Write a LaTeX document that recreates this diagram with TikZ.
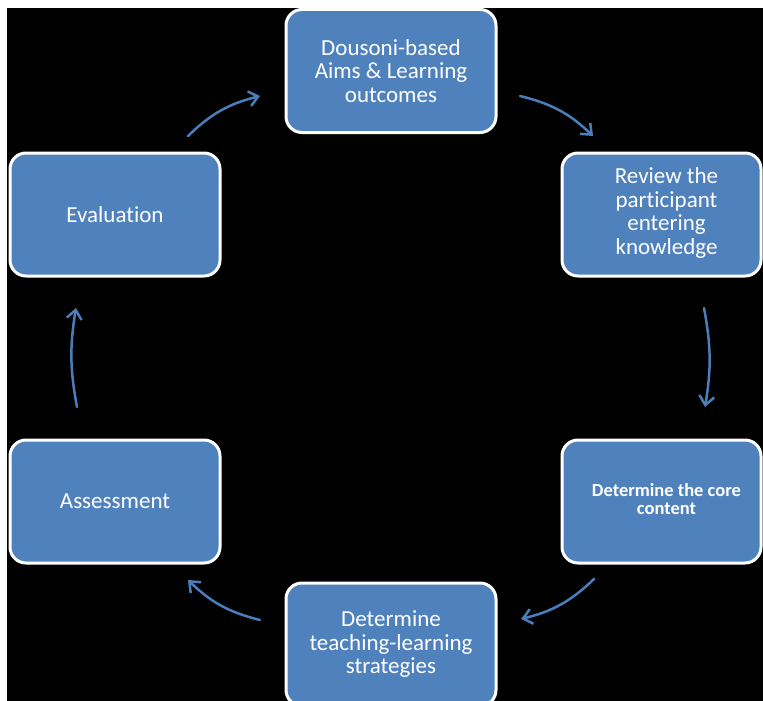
\documentclass[tikz,border=0pt]{standalone}
\usepackage{fontspec}
\setmainfont{Carlito}[Ligatures={NoCommon}]
\usetikzlibrary{arrows.meta}
\definecolor{boxblue}{HTML}{4F81BD}
\definecolor{arrblue}{HTML}{4A7EBB}
\newcommand{\rtext}[1]{\hspace*{10pt}\begin{tabular}{@{}c@{}}#1\end{tabular}}
\begin{document}
\begin{tikzpicture}[x=1pt,y=-1pt,
  stage/.style={draw=white, line width=3pt, fill=boxblue, rounded corners=16pt,
    minimum width=210pt, minimum height=123pt, inner sep=0pt,
    text=white, align=center, font=\fontsize{23}{23.5}\selectfont},
  stagenarrow/.style={stage, minimum width=199pt},
  cyc/.style={draw=arrblue, line width=2.5pt, line cap=round,
    -{Straight Barb[length=9pt,width=15pt,line width=2.5pt]}}]
\useasboundingbox (0,0) rectangle (763,701);
\clip (0,0) rectangle (763,701);
\fill[white] (0,0) rectangle (763,701);
\fill[black] (7,8) rectangle (763,701);

\node[stage] (aims) at (391,71) {Dousoni-based\\Aims \& Learning\\outcomes};
\node[stagenarrow] (review) at (661.5,214.5) {\rtext{Review the\\participant\\entering\\knowledge}};
\node[stagenarrow, font=\bfseries\fontsize{18.5}{18}\selectfont] (core) at (661.5,501.5) {\rtext{Determine the core\\content}};
\node[stage] (teach) at (391,644.5) {Determine\\teaching-learning\\strategies};
\node[stage] (assess) at (115,501.5) {Assessment};
\node[stage] (eval) at (115,214.5) {Evaluation};

\coordinate (a1s) at (188,136); \coordinate (a1e) at (260,96);
\coordinate (a2s) at (520,96);  \coordinate (a2e) at (593,136);
\coordinate (a3s) at (704,308); \coordinate (a3e) at (705,407);
\coordinate (a4s) at (594,579); \coordinate (a4e) at (521,619);
\coordinate (a5s) at (260,620); \coordinate (a5e) at (188,580);
\coordinate (a6s) at (77,407);  \coordinate (a6e) at (76,308);

\draw[cyc] (a1s) to[bend left=15] (a1e);
\draw[cyc] (a2s) to[bend left=15] (a2e);
\draw[cyc] (a3s) to[bend left=10] (a3e);
\draw[cyc] (a4s) to[bend left=15] (a4e);
\draw[cyc] (a5s) to[bend left=15] (a5e);
\draw[cyc] (a6s) to[bend left=10] (a6e);
\end{tikzpicture}
\end{document}
